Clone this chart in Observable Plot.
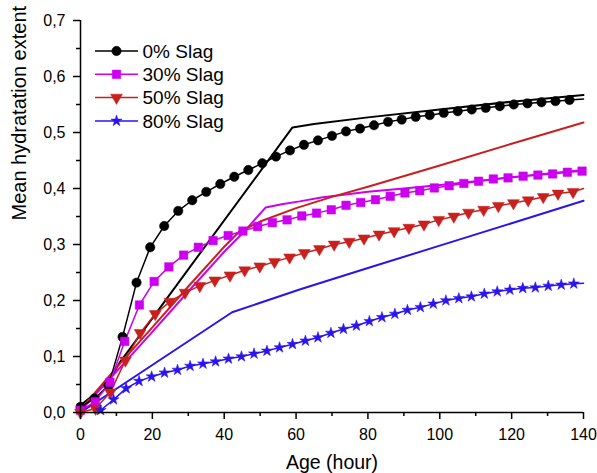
<!DOCTYPE html>
<html><head><meta charset="utf-8">
<script src="https://cdn.jsdelivr.net/npm/d3@7"></script>
<script src="https://cdn.jsdelivr.net/npm/@observablehq/plot@0.6"></script>
<style>
body{margin:0;background:#fff;}
#chart{width:597px;height:473px;position:relative;}
</style></head><body><div id="chart"></div>
<script>
const FONT = '"Liberation Sans", Arial, Helvetica, sans-serif';
const seriesNames = ["0% Slag", "30% Slag", "50% Slag", "80% Slag"];
const seriesColors = ["#000000", "#cc00ee", "#c8201e", "#2a14ee"];
const xLabel = "Age (hour)";
const yLabel = "Mean hydratation extent";
const xTicks = [0, 20, 40, 60, 80, 100, 120, 140];
const xMinorTicks = [10, 30, 50, 70, 90, 110, 130];
const yTicks = [0, 0.1, 0.2, 0.3, 0.4, 0.5, 0.6, 0.7];
const yMinorTicks = [0.05, 0.15, 0.25, 0.35, 0.45, 0.55, 0.65];

// measured series (marker points)
const slag0X = [0, 3.9, 7.8, 11.7, 15.6, 19.4, 23.3, 27.2, 31.1, 35, 38.9, 42.8, 46.7, 50.6, 54.4, 58.3, 62.2, 66.1, 70, 73.9, 77.8, 81.7, 85.6, 89.4, 93.3, 97.2, 101.1, 105, 108.9, 112.8, 116.7, 120.6, 124.4, 128.3, 132.2, 136.1];
const slag0Y = [0.010, 0.025, 0.048, 0.135, 0.232, 0.295, 0.333, 0.360, 0.379, 0.394, 0.408, 0.421, 0.433, 0.445, 0.457, 0.468, 0.478, 0.486, 0.494, 0.502, 0.507, 0.513, 0.519, 0.523, 0.528, 0.531, 0.535, 0.538, 0.541, 0.544, 0.547, 0.550, 0.552, 0.554, 0.556, 0.558];
const slag30X = [0, 4.1, 8.2, 12.3, 16.4, 20.5, 24.6, 28.7, 32.8, 36.9, 41.1, 45.2, 49.3, 53.4, 57.5, 61.6, 65.7, 69.8, 73.9, 78, 82.1, 86.2, 90.3, 94.4, 98.5, 102.6, 106.7, 110.8, 114.9, 119, 123.2, 127.3, 131.4, 135.5, 139.6];
const slag30Y = [0.004, 0.019, 0.054, 0.127, 0.192, 0.234, 0.260, 0.281, 0.295, 0.307, 0.316, 0.324, 0.332, 0.339, 0.344, 0.351, 0.356, 0.362, 0.370, 0.375, 0.380, 0.386, 0.392, 0.396, 0.401, 0.405, 0.409, 0.413, 0.417, 0.419, 0.422, 0.424, 0.426, 0.429, 0.431];
const slag50X = [0, 4.2, 8.3, 12.5, 16.6, 20.8, 24.9, 29.1, 33.2, 37.4, 41.6, 45.7, 49.9, 54, 58.2, 62.3, 66.5, 70.6, 74.8, 78.9, 83.1, 87.3, 91.4, 95.6, 99.7, 103.9, 108, 112.2, 116.3, 120.5, 124.6, 128.8, 132.9, 137.1];
const slag50Y = [0.000, 0.007, 0.036, 0.093, 0.142, 0.176, 0.198, 0.214, 0.226, 0.236, 0.245, 0.254, 0.261, 0.269, 0.277, 0.285, 0.292, 0.300, 0.305, 0.311, 0.318, 0.324, 0.330, 0.336, 0.344, 0.350, 0.357, 0.362, 0.369, 0.374, 0.379, 0.385, 0.391, 0.394];
const slag80X = [5.6, 9.2, 12.7, 16.3, 19.8, 23.4, 27, 30.5, 34.1, 37.6, 41.2, 44.8, 48.3, 51.9, 55.4, 59, 62.6, 66.1, 69.7, 73.2, 76.8, 80.4, 83.9, 87.5, 91, 94.6, 98.2, 101.7, 105.3, 108.8, 112.4, 116, 119.5, 123.1, 126.6, 130.2, 133.8, 137.3];
const slag80Y = [0.004, 0.023, 0.043, 0.056, 0.064, 0.071, 0.076, 0.083, 0.087, 0.091, 0.096, 0.100, 0.105, 0.110, 0.116, 0.122, 0.128, 0.134, 0.142, 0.149, 0.155, 0.163, 0.170, 0.176, 0.183, 0.188, 0.194, 0.200, 0.204, 0.207, 0.212, 0.216, 0.219, 0.222, 0.223, 0.226, 0.228, 0.230];
// measured curves continue (without marker) up to this age
const endAge = 140;
const measuredEndY = [0.560, 0.431, 0.400, 0.231];

// simulated series (plain lines)
const model0X = [0, 3, 6, 9, 11, 14, 59, 65, 80, 100, 120, 140];
const model0Y = [0.013, 0.028, 0.045, 0.068, 0.090, 0.116, 0.509, 0.515, 0.527, 0.541, 0.555, 0.567];
const model30X = [0, 10, 20, 30, 40, 46, 51.5, 56, 61, 67, 80, 90, 103, 120, 140];
const model30Y = [0.003, 0.073, 0.144, 0.216, 0.287, 0.326, 0.366, 0.372, 0.377, 0.384, 0.394, 0.400, 0.408, 0.420, 0.433];
const model50X = [0, 10, 20, 30, 40, 44, 50, 60, 70, 80, 100, 120, 140];
const model50Y = [0.005, 0.080, 0.152, 0.225, 0.296, 0.322, 0.341, 0.365, 0.385, 0.403, 0.441, 0.480, 0.518];
const model80X = [0, 42.2, 61.2, 80, 100, 120, 140];
const model80Y = [0.000, 0.179, 0.220, 0.258, 0.298, 0.338, 0.378];

const sqrt3 = Math.sqrt(3);
const triangleDown = {
  draw(context, size) {
    const y = -Math.sqrt(size / (sqrt3 * 3));
    context.moveTo(0, -y * 2);
    context.lineTo(-sqrt3 * y, y);
    context.lineTo(sqrt3 * y, y);
    context.closePath();
  }
};
const symbols = [d3.symbolCircle, d3.symbolSquare, triangleDown, d3.symbolStar];
const radii = [4.7, 4.8, 4.4, 3.5];

const measX = [slag0X, slag30X, slag50X, slag80X];
const measY = [slag0Y, slag30Y, slag50Y, slag80Y];
const modX = [model0X, model30X, model50X, model80X];
const modY = [model0Y, model30Y, model50Y, model80Y];

const measRows = [], dotRows = [], modRows = [];
seriesNames.forEach((s, i) => {
  measX[i].forEach((x, j) => {
    measRows.push({s, x, y: measY[i][j]});
    dotRows.push({s, i, x, y: measY[i][j]});
  });
  measRows.push({s, x: endAge, y: measuredEndY[i]});
  modX[i].forEach((x, j) => modRows.push({s, x, y: modY[i][j]}));
});

const fmt = d => d.toFixed(1).replace(".", ",");

const marks = [
  Plot.line(modRows, {x: "x", y: "y", z: "s", stroke: "s", strokeWidth: 2}),
  Plot.line(measRows, {x: "x", y: "y", z: "s", stroke: "s", strokeWidth: 1.5}),
  ...seriesNames.map((s, i) => Plot.dot(dotRows.filter(d => d.i === i), {
    x: "x", y: "y", r: radii[i], symbol: symbols[i], fill: seriesColors[i], stroke: seriesColors[i], strokeWidth: 0.5
  })),
  Plot.ruleX([0], {strokeWidth: 1.5}),
  Plot.ruleY([0], {strokeWidth: 1.5}),
  Plot.axisX(xTicks, {tickSize: 7, tickPadding: 9, tickFormat: d => String(d), fontSize: 16, strokeWidth: 1.5, label: null}),
  Plot.axisX(xMinorTicks, {tickSize: 4, tickFormat: () => "", strokeWidth: 1.5, label: null}),
  Plot.axisY(yTicks, {tickSize: 7, tickPadding: 8, tickFormat: fmt, fontSize: 16, strokeWidth: 1.5, label: null}),
  Plot.axisY(yMinorTicks, {tickSize: 4, tickFormat: () => "", strokeWidth: 1.5, label: null}),
  Plot.text([xLabel], {frameAnchor: "bottom", dy: 56, lineAnchor: "bottom", fontSize: 19.5, fill: "black"}),
  Plot.text([yLabel], {frameAnchor: "left", rotate: -90, dx: -68.5, dy: 4, lineAnchor: "top", fontSize: 20, fill: "black"})
];

const chart = Plot.plot({
  width: 597,
  height: 473,
  marginLeft: 80,
  marginRight: 14,
  marginTop: 20,
  marginBottom: 61,
  style: {fontFamily: FONT, color: "black", background: "white", overflow: "visible"},
  x: {domain: [0, 140]},
  y: {domain: [0, 0.7]},
  color: {domain: seriesNames, range: seriesColors},
  marks
});
document.getElementById("chart").appendChild(chart);

// legend (top-left, inside plot)
const svg = d3.select(chart);
const lg = svg.append("g").attr("font-family", FONT).attr("font-size", 19).attr("text-anchor", "start");
seriesNames.forEach((s, i) => {
  const cy = 51 + i * 23.3;
  const g = lg.append("g").attr("transform", `translate(0,${cy})`);
  g.append("line").attr("x1", 95).attr("x2", 138).attr("y1", 0).attr("y2", 0)
    .attr("stroke", seriesColors[i]).attr("stroke-width", 1.5);
  g.append("path").attr("transform", "translate(116.5,0)")
    .attr("d", d3.symbol(symbols[i], radii[i] * radii[i] * Math.PI)())
    .attr("fill", seriesColors[i]).attr("stroke", seriesColors[i]).attr("stroke-width", 0.5);
  g.append("text").attr("x", 142.5).attr("y", 6.7).attr("fill", "black")
    .attr("text-anchor", "start").style("font-size", "19px").text(s);
});
</script></body></html>
